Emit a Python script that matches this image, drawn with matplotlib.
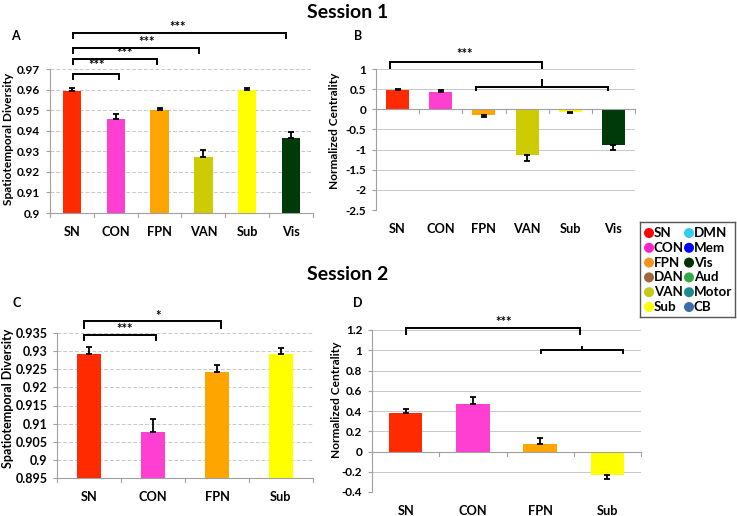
import matplotlib
matplotlib.use("Agg")
import matplotlib.pyplot as plt

plt.rcParams['font.family'] = ['Lato', 'DejaVu Sans']
plt.rcParams['font.weight'] = 'bold'

# Session 1
cats1 = ['SN', 'CON', 'FPN', 'VAN', 'Sub', 'Vis']
colors1 = ['#ff2a00', '#ff3fd2', '#ffa500', '#cccc00', '#ffff00', '#013a0a']
div1 = [0.9595, 0.9455, 0.9500, 0.9270, 0.9598, 0.9363]
div1_err = [0.0012, 0.0025, 0.0010, 0.0035, 0.0010, 0.0033]
cen1 = [0.475, 0.42, -0.13, -1.13, -0.06, -0.89]
cen1_err = [0.04, 0.07, 0.07, 0.15, 0.03, 0.11]

# Session 2
cats2 = ['SN', 'CON', 'FPN', 'Sub']
colors2 = ['#ff2a00', '#ff3fd2', '#ffa500', '#ffff00']
div2 = [0.9291, 0.9078, 0.9242, 0.9292]
div2_err = [0.0021, 0.0034, 0.0019, 0.0018]
cen2 = [0.38, 0.47, 0.07, -0.23]
cen2_err = [0.04, 0.065, 0.065, 0.04]

legend_names = ['SN', 'CON', 'FPN', 'DAN', 'VAN', 'Sub',
                'DMN', 'Mem', 'Vis', 'Aud', 'Motor', 'CB']
legend_colors = ['#ff0000', '#ff22cc', '#f7941d', '#a0673a', '#c8c818', '#ffff00',
                 '#33ccee', '#0000ff', '#003300', '#33aa44', '#1f8a8a', '#3a6ea5']

fig = plt.figure(figsize=(7.37, 5.16), dpi=100)

GRID = '#c8c8c8'
SPINE = '#a0a0a0'
TICKFS = 8.5
CATFS = 9.2
YLABFS = 8.6
STARFS = 9.5


def style(ax, n, ylim, yticks, yticklabels, zero_axis=False, dashed=True, tickfs=TICKFS):
    ax.set_xlim(-0.5, n - 0.5)
    ax.set_ylim(*ylim)
    ax.set_yticks(yticks)
    ax.set_yticklabels(yticklabels, fontsize=tickfs, fontweight='bold')
    ax.set_xticks([])
    ax.tick_params(axis='y', length=3, color=SPINE, pad=4)
    for s in ['top', 'right']:
        ax.spines[s].set_visible(False)
    ax.spines['left'].set_color(SPINE)
    ax.spines['bottom'].set_color(SPINE)
    ls = (0, (4, 2)) if dashed else '-'
    ax.yaxis.grid(True, color=GRID, linestyle=ls, linewidth=0.7)
    ax.set_axisbelow(True)
    if zero_axis:
        ax.spines['bottom'].set_position(('data', 0))
        h = (ylim[1] - ylim[0]) * 0.025
        for b in range(n + 1):
            ax.plot([b - 0.5, b - 0.5], [0, -h], color=SPINE, lw=0.8, clip_on=False)
    else:
        for b in range(n + 1):
            ax.plot([b - 0.5, b - 0.5], [0, -0.03], transform=ax.get_xaxis_transform(),
                    color=SPINE, lw=0.8, clip_on=False)


def bars(ax, vals, errs, colors, width):
    x = list(range(len(vals)))
    ax.bar(x, vals, width=width, color=colors, zorder=2)
    lower = [0 if v >= 0 else e for v, e in zip(vals, errs)]
    upper = [e if v >= 0 else 0 for v, e in zip(vals, errs)]
    ax.errorbar(x, vals, yerr=[lower, upper], fmt='none', ecolor='black',
                elinewidth=1.3, capsize=2.5, capthick=1.3, zorder=3)


def xlabels(ax, cats, yfrac):
    for i, c in enumerate(cats):
        ax.text(i, yfrac, c, transform=ax.get_xaxis_transform(), ha='center', va='center',
                fontsize=CATFS, fontweight='bold', clip_on=False)


def bracket(ax, x0, x1, ytop, drop, text=None, tx=None, ty=None, mid_up=None):
    ax.plot([x0, x0, x1, x1], [ytop - drop, ytop, ytop, ytop - drop], color='black', lw=1.4,
            clip_on=False, transform=ax.get_xaxis_transform(), solid_joinstyle='miter')
    if mid_up is not None:
        xm = (x0 + x1) / 2
        ax.plot([xm, xm], [ytop, ytop + mid_up], color='black', lw=1.4, clip_on=False,
                transform=ax.get_xaxis_transform())
    if text:
        ax.text(tx if tx is not None else (x0 + x1) / 2, ty, text, ha='center', va='center',
                fontsize=STARFS, fontweight='bold', transform=ax.get_xaxis_transform(), clip_on=False)


# Panel A
axA = fig.add_axes([50 / 737, 1 - 213 / 516, 263 / 737, 144 / 516])
bars(axA, [v - 0.9 for v in div1], div1_err, colors1, 0.42)
style(axA, 6, (0, 0.07), [i * 0.01 for i in range(8)],
      ['0.9', '0.91', '0.92', '0.93', '0.94', '0.95', '0.96', '0.97'])
xlabels(axA, cats1, -0.13)
bracket(axA, 0.02, 1.07, 0.965, 0.035, '***', 0.57, 1.025)
bracket(axA, 0.02, 1.94, 1.07, 0.035, '***', 1.21, 1.112)
bracket(axA, 0.02, 2.9, 1.146, 0.035, '***', 1.71, 1.19)
bracket(axA, 0.02, 4.88, 1.25, 0.035, '***', 2.42, 1.29)

# Panel B
axB = fig.add_axes([376 / 737, 1 - 210 / 516, 259 / 737, 141 / 516])
bars(axB, cen1, cen1_err, colors1, 0.53)
style(axB, 6, (-2.5, 1), [-2.5, -2, -1.5, -1, -0.5, 0, 0.5, 1],
      ['-2.5', '-2', '-1.5', '-1', '-0.5', '0', '0.5', '1'], zero_axis=True, dashed=False)
xlabels(axB, cats1, -0.135)
bracket(axB, -0.18, 3.35, 1.05, 0.043, '***', 1.55, 1.108)
bracket(axB, 1.82, 4.87, 0.872, 0.021, None, mid_up=0.05)

# Panel C
axC = fig.add_axes([57 / 737, 1 - 478 / 516, 256 / 737, 145 / 516])
bars(axC, [v - 0.895 for v in div2], div2_err, colors2, 0.39)
style(axC, 4, (0, 0.04), [i * 0.005 for i in range(9)],
      ['0.895', '0.9', '0.905', '0.91', '0.915', '0.92', '0.925', '0.93', '0.935'], tickfs=9.0)
xlabels(axC, cats2, -0.13)
bracket(axC, -0.08, 1.05, 0.986, 0.034, '***', 0.55, 1.025)
bracket(axC, -0.08, 2.06, 1.083, 0.049, '*', 1.08, 1.117)

# Panel D
axD = fig.add_axes([372 / 737, 1 - 492 / 516, 269 / 737, 162 / 516])
bars(axD, cen2, cen2_err, colors2, 0.5)
style(axD, 4, (-0.4, 1.2), [-0.4, -0.2, 0, 0.2, 0.4, 0.6, 0.8, 1.0, 1.2],
      ['-0.4', '-0.2', '0', '0.2', '0.4', '0.6', '0.8', '1', '1.2'], zero_axis=True, dashed=False)
xlabels(axD, cats2, -0.117)
bracket(axD, 0.0, 2.6, 1.01, 0.035, '***', 1.45, 1.052)
bracket(axD, 2.02, 3.23, 0.877, 0.017, None, mid_up=0.018)

# y labels
fig.text(9 / 737, 1 - 139 / 516, 'Spatiotemporal Diversity', rotation=90, ha='center', va='center',
         fontsize=YLABFS, fontweight='bold')
fig.text(335 / 737, 1 - 131 / 516, 'Normalized Centrality', rotation=90, ha='center', va='center',
         fontsize=YLABFS, fontweight='bold')
fig.text(8 / 737, 1 - 398 / 516, 'Spatiotemporal Diversity', rotation=90, ha='center', va='center',
         fontsize=YLABFS + 0.4, fontweight='bold')
fig.text(336 / 737, 1 - 400 / 516, 'Normalized Centrality', rotation=90, ha='center', va='center',
         fontsize=YLABFS, fontweight='bold')

# titles and panel letters
fig.text(348 / 737, 1 - 13 / 516, 'Session 1', ha='center', va='center', fontsize=14, fontweight='bold')
fig.text(348 / 737, 1 - 275 / 516, 'Session 2', ha='center', va='center', fontsize=14, fontweight='bold')
for lab, x, y in [('A', 15, 36), ('B', 358, 36), ('C', 17, 303), ('D', 358, 303)]:
    fig.text(x / 737, 1 - y / 516, lab, ha='center', va='center', fontsize=9, fontweight='bold')

# legend box
lax = fig.add_axes([640 / 737, 1 - 317 / 516, 95 / 737, 95 / 516])
lax.set_xlim(0, 95)
lax.set_ylim(95, 0)
lax.set_xticks([])
lax.set_yticks([])
for s in lax.spines.values():
    s.set_color('#555555')
    s.set_linewidth(1)
for i, (name, col) in enumerate(zip(legend_names, legend_colors)):
    colx = 0 if i < 6 else 1
    row = i % 6
    cx = 9 + colx * 40
    cy = 11 + row * 14.8
    lax.scatter([cx], [cy], s=52, color=col, edgecolors='none', zorder=2)
    lax.text(cx + 5, cy, name, ha='left', va='center', fontsize=9.6, fontweight='bold')

fig.savefig('out.png', dpi=100)
